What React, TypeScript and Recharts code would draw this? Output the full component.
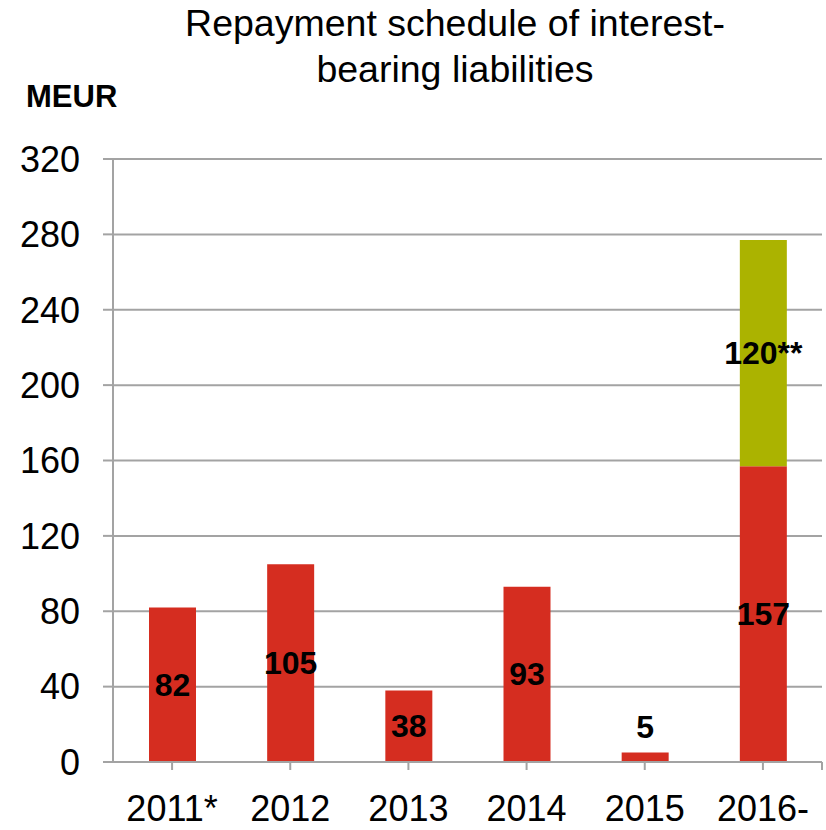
import React from "react";
import {
  BarChart,
  Bar,
  XAxis,
  YAxis,
  CartesianGrid,
  LabelList,
} from "recharts";

const categories = ["2011*", "2012", "2013", "2014", "2015", "2016-"];
const repayments = [82, 105, 38, 93, 5, 157];
const otherLiabilities = [null, null, null, null, null, 120];
const otherLabels = ["", "", "", "", "", "120**"];
const yTicks = [0, 40, 80, 120, 160, 200, 240, 280, 320];

const data = categories.map((year, i) => ({
  year,
  repay: repayments[i],
  other: otherLiabilities[i],
  otherLabel: otherLabels[i],
}));

const FONT = '"Liberation Sans", Arial, sans-serif';
const GRID = "#A3A3A3";
const X_TICK_SIZE = 8;
const X_TICK_MARGIN = 25;

// bold value label, centered in the bar; pushed above it when the bar is too thin
const BarValue = (props: any) => {
  const { x, y, width, height, value } = props;
  if (value === null || value === undefined || value === "") return null;
  const cx = x + width / 2;
  const cy = height < 30 ? y - 26 : y + height / 2;
  return (
    <text
      x={cx}
      y={cy}
      textAnchor="middle"
      dominantBaseline="central"
      fontFamily={FONT}
      fontSize={32}
      fontWeight="bold"
      fill="#000"
    >
      {value}
    </text>
  );
};

// x tick label, plus the closing tick mark at the right end of the axis
const XTick = (props: any) => {
  const { x, y, payload, index, visibleTicksCount, width } = props;
  const band = width && visibleTicksCount ? width / visibleTicksCount : 118;
  const axisY = y - X_TICK_SIZE - X_TICK_MARGIN;
  return (
    <g>
      <text
        x={x}
        y={y}
        dy="0.71em"
        textAnchor="middle"
        fontFamily={FONT}
        fontSize={36}
        fill="#000"
      >
        {payload.value}
      </text>
      {index === visibleTicksCount - 1 && (
        <line
          x1={x + band / 2}
          x2={x + band / 2}
          y1={axisY}
          y2={axisY + X_TICK_SIZE}
          stroke={GRID}
          strokeWidth={2}
        />
      )}
    </g>
  );
};

export default function App() {
  return (
    <div
      style={{
        position: "relative",
        width: 826,
        height: 830,
        background: "#fff",
        fontFamily: FONT,
      }}
    >
      <style>{"body{margin:0}"}</style>
      <div
        style={{
          position: "absolute",
          left: 155,
          top: 0,
          width: 600,
          textAlign: "center",
          fontSize: 37.5,
          lineHeight: "46px",
          color: "#000",
        }}
      >
        Repayment schedule of interest-
        <br />
        bearing liabilities
      </div>
      <div
        style={{
          position: "absolute",
          left: 26,
          top: 82,
          fontSize: 31,
          lineHeight: "30px",
          fontWeight: "bold",
          color: "#000",
        }}
      >
        MEUR
      </div>
      <BarChart
        width={826}
        height={830}
        data={data}
        margin={{ top: 159, right: 4, left: 0, bottom: 0 }}
        barSize={47}
      >
        <CartesianGrid vertical={false} stroke={GRID} strokeWidth={2} />
        <XAxis
          dataKey="year"
          height={68}
          interval={0}
          stroke={GRID}
          strokeWidth={2}
          tickSize={X_TICK_SIZE}
          tickMargin={X_TICK_MARGIN}
          tick={<XTick />}
        />
        <YAxis
          width={113}
          domain={[0, 320]}
          ticks={yTicks}
          interval={0}
          stroke={GRID}
          strokeWidth={2}
          tickSize={10}
          tickMargin={23}
          tick={{ fontSize: 36, fill: "#000", fontFamily: FONT }}
        />
        <Bar dataKey="repay" stackId="a" fill="#D52D20" isAnimationActive={false}>
          <LabelList dataKey="repay" content={<BarValue />} />
        </Bar>
        <Bar dataKey="other" stackId="a" fill="#ABB300" isAnimationActive={false}>
          <LabelList dataKey="otherLabel" content={<BarValue />} />
        </Bar>
      </BarChart>
    </div>
  );
}
